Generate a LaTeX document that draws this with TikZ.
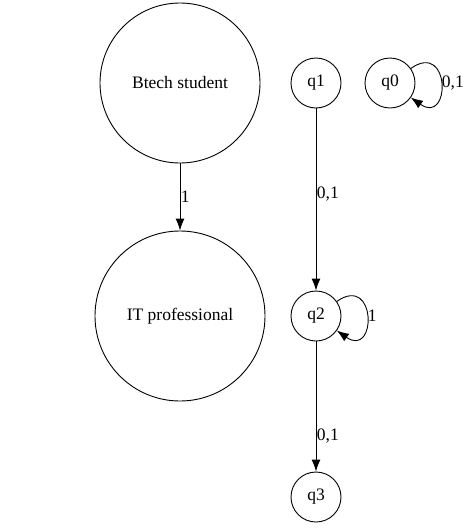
\documentclass[tikz,border=0pt]{standalone}
\usepackage{fontspec}
\setmainfont{Liberation Serif}
\usetikzlibrary{arrows.meta}

\begin{document}
\begin{tikzpicture}[x=1pt,y=-1pt,>={Latex[length=12pt,width=9pt]},
	state/.style={draw,circle,line width=0.9pt,inner sep=0pt,font=\fontsize{17.5}{20}\selectfont},
	lbl/.style={font=\fontsize{17.5}{20}\selectfont,inner sep=0.5pt}]
	
	% Fix the canvas
	\useasboundingbox (0,0) rectangle (471,528);
	
	% Draw the big states
	\node[state,minimum size=160pt] (btech) at (180,83) {Btech student};
	\node[state,minimum size=170pt] (itpro) at (180,316) {IT professional};
	
	% Draw the small states
	\node[state,minimum size=50pt] (q1) at (316,83) {q1};
	\node[state,minimum size=50pt] (q0) at (390,83) {q0};
	\node[state,minimum size=50pt] (q2) at (316,316) {q2};
	\node[state,minimum size=50pt] (q3) at (316,497) {q3};
	
	% Draw the transitions
	\draw[line width=0.9pt,->] (btech) -- (itpro) node[lbl,midway,right] {1};
	\draw[line width=0.9pt,->] (q1) -- (q2) node[lbl,pos=0.47,right] {0,1};
	\draw[line width=0.9pt,->] (q2) -- (q3) node[lbl,pos=0.73,right] {0,1};
	\draw[line width=0.9pt,->] (q0) to[out=35,in=-35,looseness=4.3] node[lbl,right] {0,1} (q0);
	\draw[line width=0.9pt,->] (q2) to[out=35,in=-35,looseness=4.3] node[lbl,right] {1} (q2);
	
\end{tikzpicture}
\end{document}
